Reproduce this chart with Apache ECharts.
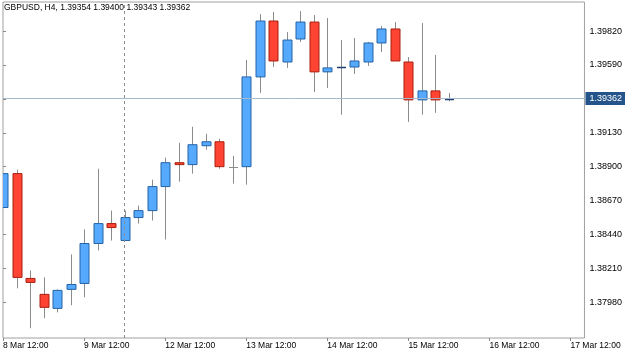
<!DOCTYPE html>
<html>
<head>
<meta charset="utf-8">
<script src="https://cdn.jsdelivr.net/npm/echarts@6/dist/echarts.min.js"></script>
<style>
  html, body { margin: 0; padding: 0; background: #fff; }
  #chart { width: 625px; height: 352px; }
</style>
</head>
<body>
<div id="chart"></div>
<script>
// GBPUSD H4 candles, one entry per bar (index = bar number)
const opens  = [1.38623, 1.38853, 1.38142, 1.38034, 1.37939, 1.38068, 1.38108, 1.38379, 1.38514, 1.38399,
                1.38555, 1.38602, 1.38765, 1.38927, 1.38914, 1.39042, 1.39069, 1.38900, 1.38900, 1.39509,
                1.39888, 1.39610, 1.39766, 1.39881, 1.39543, 1.39576, 1.39576, 1.39610, 1.39739, 1.39834,
                1.39610, 1.39353, 1.39414, 1.39354];
const closes = [1.38853, 1.38149, 1.38115, 1.37946, 1.38061, 1.38101, 1.38379, 1.38514, 1.38487, 1.38555,
                1.38602, 1.38765, 1.38927, 1.38914, 1.39049, 1.39069, 1.38900, 1.38900, 1.39509, 1.39888,
                1.39617, 1.39759, 1.39881, 1.39543, 1.39570, 1.39577, 1.39617, 1.39739, 1.39834, 1.39617,
                1.39353, 1.39414, 1.39353, 1.39362];
const lows   = [1.38623, 1.38075, 1.37804, 1.37872, 1.37912, 1.37960, 1.38014, 1.38332, 1.38399, 1.38399,
                1.38514, 1.38535, 1.38406, 1.38798, 1.38853, 1.39015, 1.38886, 1.38785, 1.38778, 1.39401,
                1.39576, 1.39570, 1.39746, 1.39407, 1.39434, 1.39252, 1.39529, 1.39583, 1.39678, 1.39617,
                1.39204, 1.39252, 1.39265, 1.39343];
const highs  = [1.38853, 1.38880, 1.38196, 1.38149, 1.38068, 1.38305, 1.38474, 1.38886, 1.38602, 1.38602,
                1.38636, 1.38812, 1.38961, 1.39062, 1.39171, 1.39123, 1.39089, 1.38974, 1.39624, 1.39935,
                1.39949, 1.39813, 1.39955, 1.39928, 1.39908, 1.39759, 1.39773, 1.39746, 1.39854, 1.39881,
                1.39644, 1.39874, 1.39658, 1.39400];

// x axis: bar index of each label, and its text
const xTickIdx = [0, 6, 12, 18, 24, 30, 36, 42];
const xTickLabels = ['8 Mar 12:00', '9 Mar 12:00', '12 Mar 12:00', '13 Mar 12:00',
                     '14 Mar 12:00', '15 Mar 12:00', '16 Mar 12:00', '17 Mar 12:00'];
const yTicks = [1.37980, 1.38210, 1.38440, 1.38670, 1.38900, 1.39130, 1.39360, 1.39590, 1.39820];
// 1.39360 sits under the current price box, so no text for it
const yLabels = [1.37980, 1.38210, 1.38440, 1.38670, 1.38900, 1.39130, 1.39590, 1.39820];

const lastPrice = 1.39362;
const markerBar = 9;

const candles = opens.map((o, i) => [i, o, closes[i], lows[i], highs[i]]);

let chart = echarts.init(document.getElementById('chart'));

function renderCandle(params, api) {
  const i = api.value(0);
  const o = api.value(1), c = api.value(2), l = api.value(3), h = api.value(4);
  const pO = api.coord([i, o]);
  const pC = api.coord([i, c]);
  const pL = api.coord([i, l]);
  const pH = api.coord([i, h]);
  const x = Math.round(pO[0]) + 0.5;
  const half = 4.5;
  const children = [{
    type: 'line',
    shape: { x1: x, y1: pH[1], x2: x, y2: pL[1] },
    style: { stroke: '#8c8c8c', lineWidth: 1 }
  }];
  const up = c > o;
  const top = Math.min(pO[1], pC[1]);
  const bot = Math.max(pO[1], pC[1]);
  if (o === c) {
    children.push({
      type: 'line',
      shape: { x1: x - half, y1: Math.round(top) + 0.5, x2: x + half, y2: Math.round(top) + 0.5 },
      style: { stroke: '#8c8c8c', lineWidth: 1 }
    });
  } else if (bot - top < 1.5) {
    children.push({
      type: 'line',
      shape: { x1: x - half, y1: Math.round(top) + 0.5, x2: x + half, y2: Math.round(top) + 0.5 },
      style: { stroke: up ? '#1f3f73' : '#8a1a10', lineWidth: 1.5 }
    });
  } else {
    children.push({
      type: 'rect',
      shape: { x: x - half, y: top, width: half * 2, height: bot - top },
      style: {
        fill: up ? '#55aaff' : '#ff4433',
        stroke: up ? '#2563a6' : '#a8200f',
        lineWidth: 1
      }
    });
  }
  return { type: 'group', children: children };
}

chart.setOption({
  animation: false,
  title: {
    text: 'GBPUSD, H4, 1.39354 1.39400 1.39343 1.39362',
    left: 4,
    top: 3,
    padding: 0,
    textStyle: { fontSize: 8.5, fontWeight: 'normal', color: '#000', fontFamily: 'Liberation Sans' }
  },
  grid: {
    left: 1, right: 37, top: 2, bottom: 14,
    show: true, borderColor: '#a0a0a0', borderWidth: 1
  },
  xAxis: {
    type: 'value',
    min: 0,
    max: 43.03,
    splitLine: { show: false },
    axisLine: { show: false },
    axisTick: { show: true, length: 3, customValues: xTickIdx, lineStyle: { color: '#888' } },
    axisLabel: {
      customValues: xTickIdx,
      formatter: v => xTickLabels[xTickIdx.indexOf(v)] || '',
      align: 'left',
      margin: 3,
      fontSize: 8.5,
      color: '#000',
      fontFamily: 'Liberation Sans'
    }
  },
  yAxis: {
    type: 'value',
    position: 'right',
    min: 1.37738,
    max: 1.40017,
    splitLine: { show: false },
    axisLine: { show: false },
    axisTick: { show: true, length: 3, customValues: yTicks, lineStyle: { color: '#888' } },
    axisLabel: {
      customValues: yLabels,
      formatter: v => v.toFixed(5),
      margin: 5,
      fontSize: 9,
      color: '#000',
      fontFamily: 'Liberation Sans'
    }
  },
  series: [
    {
      type: 'line',
      data: [],
      z: 1,
      markLine: {
        silent: true,
        symbol: 'none',
        animation: false,
        precision: 5,
        data: [
          {
            yAxis: lastPrice,
            lineStyle: { color: '#a6bace', width: 1, type: 'solid' },
            label: {
              show: true,
              position: 'end',
              distance: 1,
              formatter: lastPrice.toFixed(5),
              color: '#fff',
              backgroundColor: '#25548a',
              padding: [2, 3, 2, 4],
              fontSize: 9,
              fontFamily: 'Liberation Sans'
            }
          },
          {
            xAxis: markerBar,
            lineStyle: { color: '#8c8c8c', width: 1, type: [3, 3] },
            label: { show: false }
          }
        ]
      }
    },
    {
      type: 'custom',
      clip: true,
      renderItem: renderCandle,
      encode: { x: 0, y: [1, 2, 3, 4] },
      data: candles,
      z: 3
    }
  ]
});
</script>
</body>
</html>
